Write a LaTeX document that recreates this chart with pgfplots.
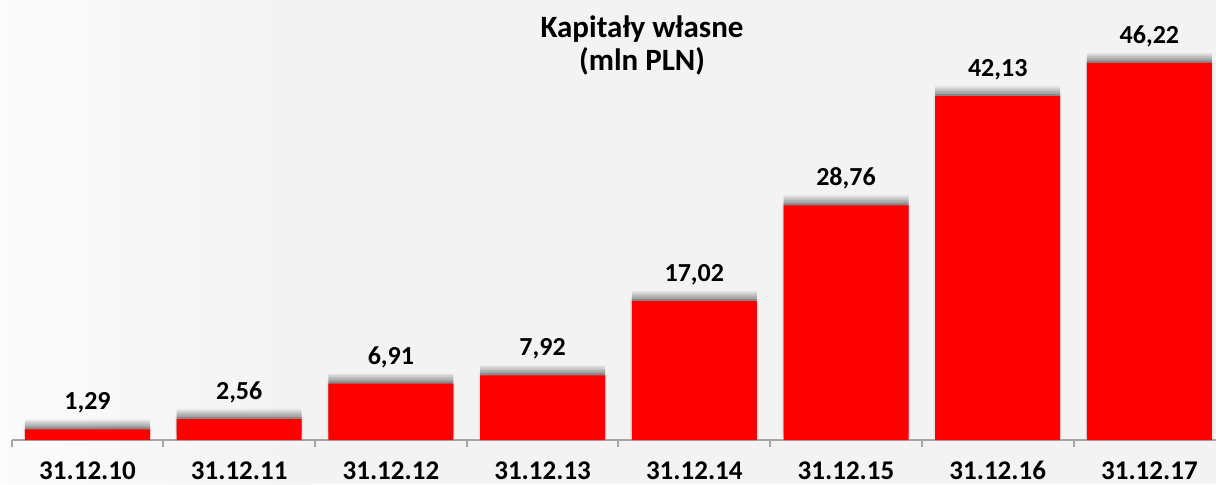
\documentclass[border=0pt]{standalone}
\usepackage{pgfplots}
\pgfplotsset{compat=1.18}
\usepackage{fontspec}
\setmainfont{Carlito}
\definecolor{barred}{HTML}{FF0000}
\definecolor{bgcol}{HTML}{F3F3F3}
\definecolor{axgray}{HTML}{A6A6A6}

\begin{document}
\begin{tikzpicture}
\useasboundingbox[fill=bgcol] (-5.825pt,-22pt) rectangle (602.175pt,220pt);
\shade[left color=white, right color=bgcol, opacity=0.7] (-5.825pt,-22pt) rectangle (150pt,220pt);
\begin{axis}[
  at={(0,0)}, anchor=south west,
  scale only axis,
  width=602.25pt, height=220pt,
  xmin=-0.5, xmax=7.44,
  ymin=0, ymax=53.92,
  ybar, bar width=62.5pt,
  axis y line=none,
  axis x line*=bottom,
  axis line style={axgray, line width=1pt},
  xtick={0,...,7},
  xticklabels={31.12.10,31.12.11,31.12.12,31.12.13,31.12.14,31.12.15,31.12.16,31.12.17},
  major tick length=0pt,
  xticklabel style={font=\bfseries\fontsize{13.5}{16}\selectfont, anchor=base, yshift=-19.5pt},
  extra x ticks={-0.5,0.5,1.5,2.5,3.5,4.5,5.5,6.5},
  extra x tick labels={},
  extra x tick style={major tick length=3.5pt, tick align=outside,
    tick style={axgray, line width=1pt}},
  nodes near coords={\pgfmathprintnumber[assume math mode=true, use comma, fixed, fixed zerofill, precision=2]{\pgfplotspointmeta}},
  every node near coord/.append style={font=\bfseries\fontsize{13}{15}\selectfont,
    anchor=base, inner sep=0pt, yshift=9.75pt, text=black},
  clip=false,
]
\addplot[fill=barred, draw=none,
  preaction={fill=black, opacity=0.06, transform canvas={yshift=5pt}},
  preaction={fill=black, opacity=0.08, transform canvas={yshift=4.2pt}},
  preaction={fill=black, opacity=0.08, transform canvas={yshift=3.4pt}},
  preaction={fill=black, opacity=0.08, transform canvas={yshift=2.6pt}},
  preaction={fill=black, opacity=0.08, transform canvas={yshift=1.8pt}},
  preaction={fill=black, opacity=0.08, transform canvas={yshift=1pt}},
  preaction={fill=black, opacity=0.05, transform canvas={xshift=0.8pt, yshift=1pt}},
  preaction={fill=black, opacity=0.05, transform canvas={xshift=-0.8pt, yshift=1pt}}]
  coordinates {(0,1.29) (1,2.56) (2,6.91) (3,7.92) (4,17.02) (5,28.76) (6,42.13) (7,46.22)};
\end{axis}
\node[anchor=base, font=\bfseries\fontsize{15.5}{18}\selectfont] at (315.2pt,201.5pt) {Kapitały własne};
\node[anchor=base, font=\bfseries\fontsize{15.5}{18}\selectfont] at (315.2pt,185pt) {(mln PLN)};
\end{tikzpicture}
\end{document}
